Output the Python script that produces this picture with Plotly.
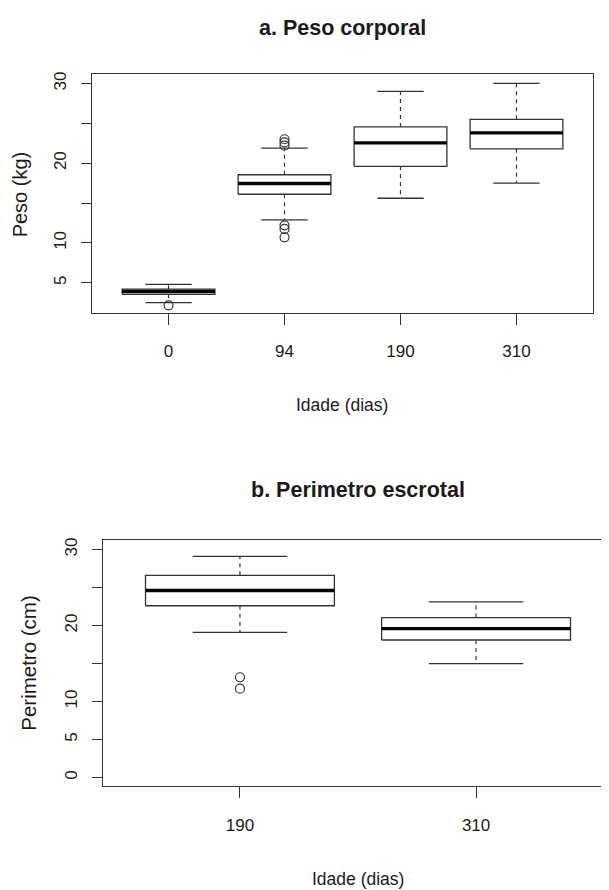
import plotly.graph_objects as go

# ---------------- data ----------------
# a. Peso corporal
ages_a = ["0", "94", "190", "310"]
peso_lower = [2.5, 12.9, 15.6, 17.5]
peso_q1 = [3.55, 16.1, 19.6, 21.8]
peso_median = [3.9, 17.45, 22.55, 23.8]
peso_q3 = [4.2, 18.55, 24.55, 25.5]
peso_upper = [4.8, 21.9, 29.0, 30.0]
peso_out_cat = ["0", "94", "94", "94", "94", "94", "94"]
peso_out_val = [2.17, 23.0, 22.6, 22.2, 12.2, 11.75, 10.7]
peso_ticks = [5, 10, 15, 20, 25, 30]
peso_ticklabels = ["5", "10", "", "20", "", "30"]

# b. Perimetro escrotal
ages_b = ["190", "310"]
per_lower = [19.1, 15.0]
per_q1 = [22.6, 18.1]
per_median = [24.6, 19.6]
per_q3 = [26.6, 21.05]
per_upper = [29.1, 23.1]
per_out_cat = ["190", "190"]
per_out_val = [13.2, 11.7]
per_ticks = [0, 5, 10, 15, 20, 25, 30]
per_ticklabels = ["0", "5", "10", "", "20", "", "30"]

# ---------------- styling ----------------
PAGE_W, PAGE_H = 609, 890
OFF = 8  # default body margin of the html page
W, H = PAGE_W - OFF, PAGE_H - OFF
FONT = "Liberation Sans, Arial, Helvetica, sans-serif"
LINE = "#333333"
TXT = "#1a1a1a"
BOX_HALF = 0.4
CAP_HALF = 0.2


def add_boxes(fig, cats, lo, q1, med, q3, hi, out_cat, out_val, xa, ya):
    pos = {c: i + 1 for i, c in enumerate(cats)}
    bx, by, mx, my, wx, wy, cx, cy = [], [], [], [], [], [], [], []
    for c, l, a, m, b, h in zip(cats, lo, q1, med, q3, hi):
        p = pos[c]
        bx += [p - BOX_HALF, p + BOX_HALF, p + BOX_HALF, p - BOX_HALF, p - BOX_HALF, None]
        by += [a, a, b, b, a, None]
        mx += [p - BOX_HALF, p + BOX_HALF, None]
        my += [m, m, None]
        wx += [p, p, None, p, p, None]
        wy += [b, h, None, a, l, None]
        cx += [p - CAP_HALF, p + CAP_HALF, None, p - CAP_HALF, p + CAP_HALF, None]
        cy += [h, h, None, l, l, None]
    common = dict(xaxis=xa, yaxis=ya, mode="lines", hoverinfo="skip", showlegend=False)
    fig.add_trace(go.Scatter(x=wx, y=wy, line=dict(color=LINE, width=1.2, dash="4px,4px"), **common))
    fig.add_trace(go.Scatter(x=cx, y=cy, line=dict(color=LINE, width=1.3), **common))
    fig.add_trace(go.Scatter(x=bx, y=by, fill="toself", fillcolor="white",
                             line=dict(color=LINE, width=1.3), **common))
    fig.add_trace(go.Scatter(x=mx, y=my, line=dict(color="#050505", width=3.4), **common))
    fig.add_trace(go.Scatter(x=[pos[c] for c in out_cat], y=out_val, mode="markers",
                             xaxis=xa, yaxis=ya, showlegend=False,
                             marker=dict(symbol="circle-open", size=9, color=LINE,
                                         line=dict(width=1.2, color=LINE))))


fig = go.Figure()
add_boxes(fig, ages_a, peso_lower, peso_q1, peso_median, peso_q3, peso_upper,
          peso_out_cat, peso_out_val, "x", "y")
add_boxes(fig, ages_b, per_lower, per_q1, per_median, per_q3, per_upper,
          per_out_cat, per_out_val, "x2", "y2")

axis_common = dict(showgrid=False, zeroline=False, showline=True, linecolor=LINE, linewidth=1.3,
                   ticks="outside", tickcolor=LINE, tickwidth=1.2,
                   tickfont=dict(family=FONT, size=17, color=TXT))


def px_x(v):
    return (v - OFF) / W


def px_y(v):
    return (H - (v - OFF)) / H


fig.update_layout(
    width=W, height=H,
    margin=dict(l=0, r=0, t=0, b=0),
    paper_bgcolor="white", plot_bgcolor="white",
    showlegend=False,
    xaxis=dict(domain=[px_x(92), px_x(593)], range=[0.34, 4.66], anchor="y",
               tickvals=list(range(1, len(ages_a) + 1)), ticktext=ages_a,
               ticklen=11, ticklabelstandoff=12, mirror=True, **axis_common),
    yaxis=dict(domain=[px_y(310.7), px_y(71.7)], range=[1.25, 31.125], anchor="x",
               tickvals=peso_ticks, ticktext=peso_ticklabels, tickangle=-90,
               ticklen=10, ticklabelstandoff=8, mirror=True, **axis_common),
    xaxis2=dict(domain=[px_x(103), 1.0], range=[0.42, 2.563], anchor="y2",
                tickvals=list(range(1, len(ages_b) + 1)), ticktext=ages_b,
                ticklen=11, ticklabelstandoff=12, mirror=True, **axis_common),
    yaxis2=dict(domain=[px_y(785.7), px_y(539)], range=[-1.1, 31.22], anchor="x2",
                tickvals=per_ticks, ticktext=per_ticklabels, tickangle=-90,
                ticklen=10, ticklabelstandoff=8, mirror=False, **axis_common),
)

ann = [
    dict(text="<b>a. Peso corporal</b>", x=px_x(342.5), y=px_y(25), size=21.5),
    dict(text="<b>b. Perimetro escrotal</b>", x=px_x(358), y=px_y(489), size=21.5),
    dict(text="Idade (dias)", x=px_x(342), y=px_y(403), size=17.5),
    dict(text="Idade (dias)", x=px_x(358), y=px_y(879), size=17.5),
    dict(text="Peso (kg)", x=px_x(20), y=px_y(192), size=20, angle=-90),
    dict(text="Perimetro (cm)", x=px_x(29), y=px_y(662), size=20.5, angle=-90),
]
for a in ann:
    fig.add_annotation(text=a["text"], x=a["x"], y=a["y"], xref="paper", yref="paper",
                       xanchor="center", yanchor="middle", showarrow=False,
                       textangle=a.get("angle", 0), borderpad=0,
                       font=dict(family=FONT, size=a["size"], color=TXT))

fig.write_html("out.html")
